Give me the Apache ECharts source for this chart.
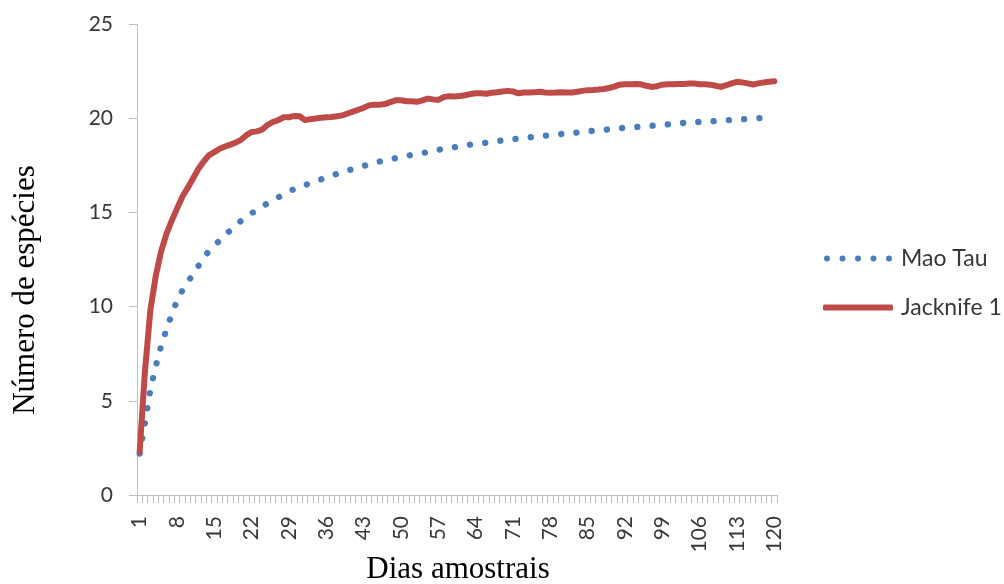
<!DOCTYPE html>
<html>
<head>
<meta charset="utf-8">
<script src="https://cdn.jsdelivr.net/npm/echarts@6/dist/echarts.min.js"></script>
<style>
html,body{margin:0;padding:0;background:#fff;}
#chart{width:1004px;height:584px;}
</style>
</head>
<body>
<div id="chart"></div>
<script>
var categories = [
  1,2,3,4,5,6,7,8,9,10,11,12,13,14,15,16,17,18,19,20,
  21,22,23,24,25,26,27,28,29,30,31,32,33,34,35,36,37,38,39,40,
  41,42,43,44,45,46,47,48,49,50,51,52,53,54,55,56,57,58,59,60,
  61,62,63,64,65,66,67,68,69,70,71,72,73,74,75,76,77,78,79,80,
  81,82,83,84,85,86,87,88,89,90,91,92,93,94,95,96,97,98,99,100,
  101,102,103,104,105,106,107,108,109,110,111,112,113,114,115,116,117,118,119,120
];

var maoTau = [
  2.2,3.84,5.58,6.81,7.89,8.77,9.58,10.3,10.86,11.3,
  11.7,12.15,12.6,12.95,13.25,13.5,13.8,14.05,14.3,14.55,
  14.75,14.95,15.15,15.3,15.5,15.67,15.8,15.97,16.1,16.25,
  16.35,16.45,16.55,16.65,16.75,16.85,16.95,17.05,17.15,17.22,
  17.3,17.38,17.46,17.55,17.62,17.7,17.76,17.82,17.88,17.94,
  18.0,18.05,18.1,18.15,18.2,18.26,18.32,18.38,18.42,18.46,
  18.5,18.55,18.6,18.63,18.67,18.7,18.74,18.78,18.82,18.85,
  18.88,18.92,18.95,18.98,19.01,19.04,19.07,19.1,19.13,19.16,
  19.19,19.21,19.24,19.27,19.3,19.33,19.36,19.38,19.41,19.44,
  19.47,19.49,19.51,19.53,19.55,19.57,19.6,19.62,19.64,19.67,
  19.7,19.72,19.75,19.77,19.79,19.8,19.81,19.83,19.85,19.87,
  19.89,19.9,19.92,19.94,19.96,19.98,20.0,20.01,20.03,20.05
];

var jacknife1 = [
  2.3,6.6,9.8,11.6,12.9,13.85,14.55,15.2,15.83,16.3,
  16.8,17.3,17.7,18.04,18.2,18.38,18.5,18.6,18.7,18.85,
  19.1,19.27,19.3,19.4,19.65,19.8,19.9,20.05,20.05,20.12,
  20.1,19.9,19.95,19.98,20.02,20.05,20.06,20.1,20.15,20.25,
  20.35,20.45,20.55,20.68,20.72,20.72,20.75,20.85,20.95,20.95,
  20.9,20.9,20.87,20.95,21.04,21.0,20.97,21.12,21.17,21.15,
  21.18,21.22,21.28,21.32,21.32,21.3,21.35,21.38,21.42,21.45,
  21.42,21.32,21.36,21.36,21.38,21.4,21.36,21.35,21.36,21.38,
  21.36,21.36,21.4,21.45,21.49,21.5,21.52,21.55,21.6,21.68,
  21.78,21.8,21.8,21.82,21.8,21.72,21.66,21.7,21.78,21.8,
  21.8,21.82,21.82,21.84,21.84,21.8,21.8,21.78,21.72,21.66,
  21.75,21.85,21.93,21.9,21.85,21.79,21.85,21.9,21.93,21.96
];

var seriesNames = ['Mao Tau', 'Jacknife 1'];
var yTitle = 'Número de espécies';
var xTitle = 'Dias amostrais';

var chart = echarts.init(document.getElementById('chart'), null, {renderer: 'canvas'});
var axisGray = '#bfbfbf';
var labelColor = '#383838';
var blue = '#4a7ebb';
var red = '#be4b48';

var dotsIcon = 'path://M0,3a3,3 0 1,0 6,0a3,3 0 1,0 -6,0Z' +
  'M15.5,3a3,3 0 1,0 6,0a3,3 0 1,0 -6,0Z' +
  'M31,3a3,3 0 1,0 6,0a3,3 0 1,0 -6,0Z' +
  'M46.5,3a3,3 0 1,0 6,0a3,3 0 1,0 -6,0Z' +
  'M62,3a3,3 0 1,0 6,0a3,3 0 1,0 -6,0Z';

chart.setOption({
  animation: false,
  backgroundColor: '#ffffff',
  grid: {left: 137, right: 227, top: 24, bottom: 89, containLabel: false},
  legend: {
    orient: 'vertical',
    left: 818,
    top: 242,
    itemWidth: 70,
    itemHeight: 6,
    itemGap: 26,
    textStyle: {fontFamily: 'Lato', fontSize: 23, color: labelColor, padding: [0,0,0,3]},
    data: [
      {name: seriesNames[0], icon: dotsIcon, itemStyle: {color: blue}},
      {name: seriesNames[1], icon: 'roundRect', itemStyle: {color: red}}
    ]
  },
  xAxis: {
    type: 'category',
    data: categories,
    boundaryGap: true,
    axisLine: {lineStyle: {color: axisGray, width: 1}},
    axisTick: {show: true, interval: 0, length: 8, lineStyle: {color: axisGray}},
    axisLabel: {
      rotate: 90,
      margin: 21,
      fontFamily: 'Lato',
      fontSize: 21,
      color: labelColor,
      interval: function (index) { return index % 7 === 0 || index === categories.length - 1; }
    },
    splitLine: {show: false}
  },
  yAxis: {
    type: 'value',
    min: 0,
    max: 25,
    interval: 5,
    axisLine: {show: true, lineStyle: {color: axisGray, width: 1}},
    axisTick: {show: true, length: 8, inside: false, lineStyle: {color: axisGray}},
    axisLabel: {margin: 24, fontFamily: 'Lato', fontSize: 21, color: labelColor},
    splitLine: {show: false}
  },
  graphic: [
    {
      type: 'text',
      x: 26, y: 290,
      rotation: Math.PI / 2,
      style: {text: yTitle, fontFamily: 'Liberation Serif', fontSize: 31, fill: '#000',
              textAlign: 'center', textVerticalAlign: 'middle'}
    },
    {
      type: 'text',
      x: 458, y: 570,
      style: {text: xTitle, fontFamily: 'Liberation Serif', fontSize: 31, fill: '#000',
              textAlign: 'center', textVerticalAlign: 'middle'}
    }
  ],
  series: [
    {
      name: seriesNames[0],
      type: 'line',
      data: maoTau,
      symbol: 'none',
      smooth: false,
      z: 2,
      lineStyle: {color: blue, width: 6.3, type: [0.1, 15.2], cap: 'round'},
      itemStyle: {color: blue}
    },
    {
      name: seriesNames[1],
      type: 'line',
      data: jacknife1,
      symbol: 'none',
      smooth: false,
      z: 3,
      lineStyle: {color: red, width: 6, cap: 'round', join: 'round'},
      itemStyle: {color: red}
    }
  ]
});
</script>
</body>
</html>
